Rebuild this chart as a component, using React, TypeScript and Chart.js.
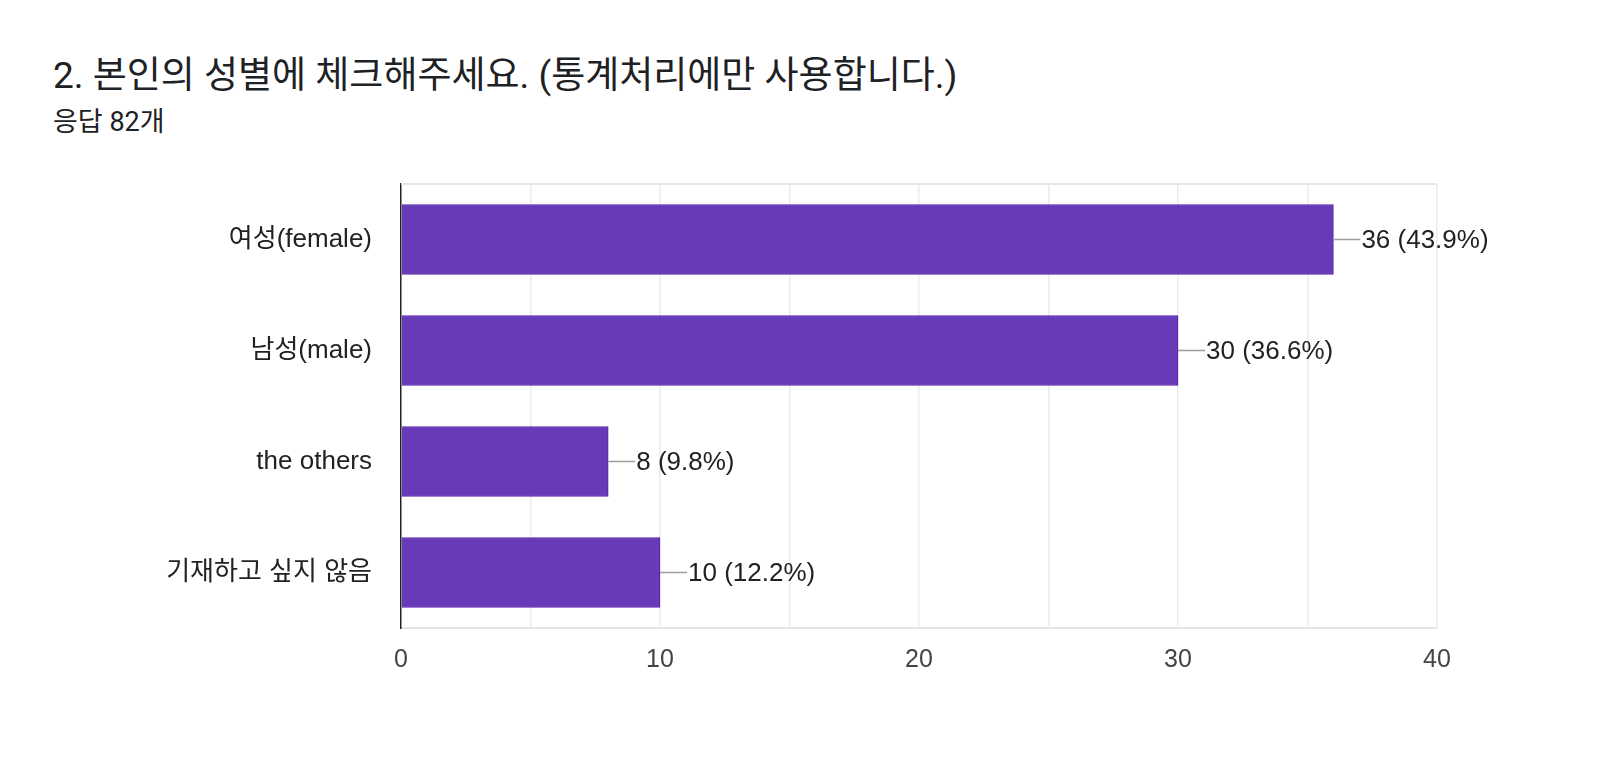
import React, { useEffect, useRef } from "react";
import { Chart, registerables } from "chart.js";

Chart.register(...registerables);

const titleText = "2. 본인의 성별에 체크해주세요. (통계처리에만 사용합니다.)";
const subtitleText = "응답 82개";
const categories = ["여성(female)", "남성(male)", "the others", "기재하고 싶지 않음"];
const counts = [36, 30, 8, 10];
const totalResponses = 82;
const xMax = 40;
const xStep = 5;

const LABEL_FONT = "'Liberation Sans', Arial, 'Noto Sans CJK KR', sans-serif";

export default function App() {
  const canvasRef = useRef<HTMLCanvasElement | null>(null);

  useEffect(() => {
    document.body.style.margin = "0";
    const canvas = canvasRef.current;
    if (!canvas) return;

    const topBorder = {
      id: "topBorder",
      beforeDatasetsDraw(chart: any) {
        const { ctx, chartArea } = chart;
        ctx.save();
        ctx.strokeStyle = "#e6e6e6";
        ctx.lineWidth = 2;
        ctx.beginPath();
        ctx.moveTo(chartArea.left, chartArea.top);
        ctx.lineTo(chartArea.right, chartArea.top);
        ctx.stroke();
        ctx.restore();
      },
    };

    const valueLabels = {
      id: "valueLabels",
      afterDatasetsDraw(chart: any) {
        const { ctx } = chart;
        const meta = chart.getDatasetMeta(0);
        ctx.save();
        meta.data.forEach((el: any, i: number) => {
          const v = counts[i];
          const pct = ((v / totalResponses) * 100).toFixed(1);
          ctx.strokeStyle = "#9e9e9e";
          ctx.lineWidth = 1.5;
          ctx.beginPath();
          ctx.moveTo(el.x, el.y);
          ctx.lineTo(el.x + 27, el.y);
          ctx.stroke();
          ctx.fillStyle = "#222222";
          ctx.font = `26px ${LABEL_FONT}`;
          ctx.textAlign = "left";
          ctx.textBaseline = "middle";
          ctx.fillText(`${v} (${pct}%)`, el.x + 28, el.y + 1);
        });
        ctx.restore();
      },
    };

    const chart = new Chart(canvas, {
      type: "bar",
      data: {
        labels: categories,
        datasets: [
          {
            data: counts,
            backgroundColor: "#673ab7",
            borderColor: "#5a1fae",
            borderWidth: 1,
            barThickness: 70,
          },
        ],
      },
      options: {
        indexAxis: "y",
        animation: false,
        responsive: false,
        devicePixelRatio: 1,
        layout: { padding: { top: 184, right: 163, left: 0, bottom: 0 } },
        plugins: {
          legend: { display: false },
          tooltip: { enabled: false },
          title: { display: false },
        },
        scales: {
          x: {
            min: 0,
            max: xMax,
            ticks: {
              stepSize: xStep,
              padding: 17,
              color: "#444444",
              font: { family: LABEL_FONT, size: 25 },
              callback: (v: any) => (Number(v) % 10 === 0 ? String(v) : ""),
              autoSkip: false,
              maxRotation: 0,
            },
            grid: {
              color: (c: any) => (c.tick && c.tick.value === 0 ? "rgba(0,0,0,0)" : "#ebebeb"),
              lineWidth: 1.5,
              drawTicks: false,
            },
            border: { color: "#e6e6e6", width: 2 },
            afterFit: (s: any) => {
              s.height = 132;
            },
          },
          y: {
            ticks: {
              padding: 29,
              color: "#222222",
              font: { family: LABEL_FONT, size: 26 },
            },
            grid: { display: false, drawTicks: false },
            border: { color: "#222222", width: 1.5 },
            afterFit: (s: any) => {
              s.width = 401;
            },
          },
        },
      },
      plugins: [topBorder, valueLabels],
    });

    return () => chart.destroy();
  }, []);

  return (
    <div
      style={{
        position: "absolute",
        left: 0,
        top: 0,
        width: 1600,
        height: 760,
        background: "#ffffff",
        overflow: "hidden",
      }}
    >
      <div
        style={{
          position: "absolute",
          left: 53,
          top: 57,
          fontFamily: "Roboto, 'Noto Sans CJK KR', sans-serif",
          fontSize: 37,
          lineHeight: "37px",
          color: "#202124",
          whiteSpace: "nowrap",
        }}
      >
        {titleText}
      </div>
      <div
        style={{
          position: "absolute",
          left: 53,
          top: 109,
          fontFamily: "Roboto, 'Noto Sans CJK KR', sans-serif",
          fontSize: 27,
          lineHeight: "27px",
          color: "#202124",
          whiteSpace: "nowrap",
        }}
      >
        {subtitleText}
      </div>
      <canvas
        ref={canvasRef}
        width={1600}
        height={760}
        style={{ position: "absolute", left: 0, top: 0, width: 1600, height: 760 }}
      />
    </div>
  );
}
